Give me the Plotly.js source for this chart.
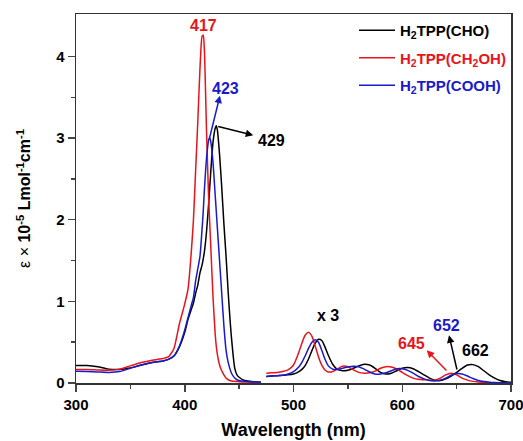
<!DOCTYPE html>
<html>
<head>
<meta charset="utf-8">
<script src="https://cdn.plot.ly/plotly-3.0.1.min.js"></script>
<style>html,body{margin:0;padding:0;background:#fff;}#chart{width:523px;height:441px;}</style>
</head>
<body>
<div id="chart"></div>
<script>
// Wavelength grids (nm)
const wlSoret = [300,310,320,330,340,350,360,370,380,385,390,395,400,403,406,408,410,412,414,416,417,418,420,422,423,424,426,428,429,430,432,434,436,438,440,443,446,448,450,455,460,465,470];
const wlQ = [475,480,485,490,495,500,505,508,511,514,517,520,523,526,529,532,536,540,545,550,555,560,565,570,575,580,585,590,595,600,605,610,615,620,625,630,635,640,645,650,655,660,665,670,675,680,685,690,695,700];

// H2TPP(CHO) - black
const choSoret = [0.215,0.215,0.2,0.17,0.165,0.185,0.22,0.25,0.27,0.29,0.33,0.44,0.62,0.78,0.9,0.98,1.1,1.2,1.35,1.45,1.52,1.6,1.85,2.2,2.4,2.6,2.95,3.12,3.15,3.1,2.8,2.4,1.95,1.55,1.1,0.55,0.18,0.1,0.07,0.03,0.02,0.015,0.01];
const choQ = [0.08,0.085,0.09,0.095,0.1,0.11,0.14,0.17,0.22,0.3,0.4,0.49,0.535,0.52,0.44,0.34,0.23,0.17,0.15,0.155,0.18,0.21,0.23,0.22,0.18,0.13,0.11,0.12,0.15,0.18,0.19,0.175,0.14,0.1,0.06,0.035,0.03,0.05,0.085,0.13,0.18,0.22,0.225,0.2,0.15,0.1,0.06,0.03,0.015,0.008];

// H2TPP(CH2OH) - red
const ch2ohSoret = [0.165,0.165,0.16,0.155,0.17,0.21,0.25,0.28,0.3,0.32,0.42,0.72,0.97,1.15,1.6,2.0,2.6,3.2,3.85,4.25,4.26,4.1,3.1,2.25,1.95,1.65,1.05,0.6,0.45,0.35,0.22,0.15,0.1,0.06,0.04,0.025,0.02,0.018,0.015,0.012,0.01,0.01,0.01];
const ch2ohQ = [0.12,0.125,0.13,0.14,0.16,0.22,0.38,0.5,0.59,0.62,0.57,0.45,0.32,0.22,0.16,0.135,0.14,0.17,0.205,0.2,0.16,0.13,0.12,0.125,0.145,0.18,0.2,0.195,0.17,0.13,0.09,0.06,0.045,0.04,0.035,0.035,0.06,0.1,0.12,0.1,0.06,0.035,0.02,0.012,0.008,0.005,0.003,0.002,0.001,0.001];

// H2TPP(COOH) - blue
const coohSoret = [0.145,0.14,0.135,0.13,0.14,0.18,0.22,0.25,0.27,0.29,0.33,0.45,0.65,0.8,0.95,1.05,1.25,1.4,1.55,1.9,2.1,2.35,2.75,2.98,3.01,2.95,2.7,2.3,2.1,1.9,1.5,1.1,0.7,0.4,0.25,0.12,0.06,0.04,0.03,0.02,0.015,0.012,0.01];
const coohQ = [0.08,0.085,0.09,0.095,0.11,0.14,0.2,0.26,0.34,0.43,0.5,0.53,0.5,0.4,0.29,0.21,0.17,0.165,0.18,0.195,0.205,0.2,0.17,0.135,0.11,0.11,0.125,0.15,0.175,0.175,0.155,0.12,0.08,0.05,0.03,0.025,0.035,0.06,0.095,0.115,0.11,0.085,0.055,0.03,0.018,0.01,0.006,0.004,0.002,0.001];

const seriesNames = ['H<sub>2</sub>TPP(CHO)','H<sub>2</sub>TPP(CH<sub>2</sub>OH)','H<sub>2</sub>TPP(COOH)'];
const seriesColors = ['#000000','#e8141b','#1a1acc'];

// Peak labels
const labelTexts = ['417','423','429','x 3','645','652','662'];
const labelX = [416.8,437.8,480,532,608.7,640.8,667];
const labelY = [4.38,3.61,2.97,0.83,0.483,0.707,0.40];
const labelColors = ['#e8141b','#1a1acc','#000000','#000000','#e8141b','#1a1acc','#000000'];

// Arrows: tail -> head
const arrowTailX = [422.6,429.4,642,650.6];
const arrowTailY = [2.99,3.146,0.135,0.147];
const arrowHeadX = [432.4,463,622.5,643];
const arrowHeadY = [3.52,3.035,0.40,0.585];
const arrowColors = ['#1a1acc','#000000','#e8141b','#000000'];

const wlAll = wlSoret.concat([null], wlQ);
const sets = [[choSoret,choQ],[ch2ohSoret,ch2ohQ],[coohSoret,coohQ]];
const traces = sets.map((s,i)=>({
  x: wlAll,
  y: s[0].concat([null], s[1]),
  type: 'scatter', mode: 'lines',
  name: '<span style="color:'+seriesColors[i]+'">'+seriesNames[i]+'</span>',
  legendgroup: 'g'+i,
  line: {color: seriesColors[i], width: 1.5, shape: 'spline', smoothing: 0.6},
  connectgaps: false
}));

const annotations = [];
labelTexts.forEach((t,i)=>annotations.push({
  x: labelX[i], y: labelY[i], xref:'x', yref:'y', text: '<b>'+t+'</b>', showarrow:false,
  font:{family:'Arial, Liberation Sans, sans-serif', size:16, color: labelColors[i]}
}));
arrowTailX.forEach((_,i)=>annotations.push({
  x: arrowHeadX[i], y: arrowHeadY[i], ax: arrowTailX[i], ay: arrowTailY[i],
  xref:'x', yref:'y', axref:'x', ayref:'y', text:'', showarrow:true,
  arrowhead:2, arrowsize:1, arrowwidth:1.5, arrowcolor: arrowColors[i], standoff:0, startstandoff:0
}));

const layout = {
  width: 523, height: 441,
  margin: {l:76, r:12, t:14, b:58},
  paper_bgcolor:'#fff', plot_bgcolor:'#fff',
  font: {family:'Arial, Liberation Sans, sans-serif', size:14, color:'#000'},
  showlegend: true,
  legend: {x:1, xanchor:'right', y:1, yanchor:'top', bgcolor:'rgba(0,0,0,0)', borderwidth:0,
    itemwidth:36,
    font:{family:'Arial, Liberation Sans, sans-serif', size:15, weight:'bold'}, tracegroupgap:5},
  xaxis: {
    range:[300,700], tickvals:[300,400,500,600,700], ticks:'outside', ticklen:7, tickwidth:1.5,
    ticklabeloverflow:'allow',
    showline:true, mirror:true, linecolor:'#333', linewidth:1.5, showgrid:false, zeroline:false,
    tickfont:{size:15, weight:'bold'},
    minor:{tickvals:[350,450,550,650], ticks:'outside', ticklen:4, tickwidth:1.5, showgrid:false},
    title:{text:'<b>Wavelength (nm)</b>', font:{size:18}, standoff:12}
  },
  yaxis: {
    range:[0,4.52], tickvals:[0,1,2,3,4], ticks:'outside', ticklen:7, tickwidth:1.5,
    showline:true, mirror:true, linecolor:'#333', linewidth:1.5, showgrid:false, zeroline:false,
    tickfont:{size:15, weight:'bold'},
    minor:{tickvals:[0.5,1.5,2.5,3.5], ticks:'outside', ticklen:4, tickwidth:1.5, showgrid:false},
    title:{text:'ε × <b>10<sup>-5</sup> Lmol<sup>-1</sup>cm<sup>-1</sup></b>', font:{size:16}, standoff:21}
  },
  annotations: annotations
};
Plotly.newPlot('chart', traces, layout, {displayModeBar:false, staticPlot:true});
</script>
</body>
</html>
